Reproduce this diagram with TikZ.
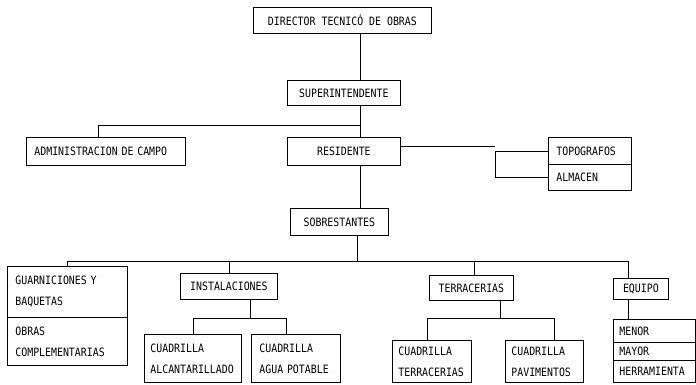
\documentclass[tikz,border=0pt]{standalone}
\usepackage{fontspec}
\setmonofont[FakeStretch=0.86]{DejaVu Sans Mono}
\usepackage{tikz}
\usetikzlibrary{positioning,calc}
\tikzset{
  node-box/.style={draw,line width=0.8pt,anchor=north west,inner sep=0pt,
    font=\ttfamily\fontsize{11.5}{21}\selectfont},
  box-size/.style 2 args={minimum width=#1pt,minimum height=#2pt},
  node-left/.style={node-box,align=left,inner xsep=8pt,text width=#1pt},
  link/.style={line width=0.8pt},
}

\begin{document}
\begin{tikzpicture}[x=1pt,y=-1pt]
  \useasboundingbox (0,0) rectangle (696,384);
  % upper part
  \node[node-box,box-size={178}{26}] (dir) at (253,7) {DIRECTOR TECNICÓ DE OBRAS};
  \node[node-box,box-size={113}{25}] (sup) at (287,80) {SUPERINTENDENTE};
  \node[node-left=143,minimum height=28pt] (adm) at (26,137) {ADMINISTRACION DE CAMPO};
  \node[node-box,box-size={113}{28}] (res) at (287,137) {RESIDENTE};
  \node[node-left=67,minimum height=27pt] (topo) at (548,137) {TOPOGRAFOS};
  \node[node-left=67,minimum height=26pt] (alm) at (548,164) {ALMACEN};
  \node[node-box,box-size={98}{27}] (sob) at (290,208) {SOBRESTANTES};
  % lower part
  \node[node-left=104,minimum height=51pt] (guar) at (7,266) {GUARNICIONES Y\\BAQUETAS};
  \node[node-left=104,minimum height=48pt] (obr) at (7,317) {OBRAS\\COMPLEMENTARIAS};
  \node[node-box,box-size={97}{26}] (inst) at (180,273) {INSTALACIONES};
  \node[node-left=85,inner xsep=6pt,minimum height=48pt] (cal) at (144,334) {CUADRILLA\\ALCANTARILLADO};
  \node[node-left=73,minimum height=48pt] (cap) at (251,334) {CUADRILLA\\AGUA POTABLE};
  \node[node-box,box-size={84}{25}] (terr) at (429,275) {TERRACERIAS};
  \node[node-left=67,inner xsep=6pt,minimum height=42pt] (cte) at (392,340) {CUADRILLA\\TERRACERIAS};
  \node[node-left=66,inner xsep=6pt,minimum height=42pt] (cpa) at (505,340) {CUADRILLA\\PAVIMENTOS};
  \node[node-box,box-size={55}{21}] (equ) at (613,278) {EQUIPO};
  \node[node-left=70,inner xsep=6pt,minimum height=23pt] (men) at (613,319) {MENOR};
  \node[node-left=70,inner xsep=6pt,minimum height=18pt] (may) at (613,342) {MAYOR};
  \node[node-left=70,inner xsep=6pt,minimum height=22pt] (her) at (613,360) {HERRAMIENTA};

  \coordinate (d-dir) at ([xshift=18pt]dir.south);
  \coordinate (d-sup) at ([xshift=16.5pt]sup.south);
  \coordinate (d-res) at ([xshift=16.5pt]res.south);
  \coordinate (d-sob) at ([xshift=18pt]sob.south);
  \coordinate (adm-bus) at (360,125);
  \coordinate (bus) at (0,261);
  \coordinate (sub-bus) at (0,318);
  \coordinate (tie) at ([xshift=-53pt]topo.west);

  \draw[link] (d-dir) -- (d-dir |- sup.north);
  \draw[link] (d-sup) -- (d-sup |- res.north);
  \draw[link] (adm-bus) -| ([xshift=-7.5pt]adm.north);
  \draw[link] ([yshift=5pt]res.east) -- ([yshift=5pt]res.east -| tie);
  \draw[link] (topo.west) -- (tie) |- (alm.west);
  \draw[link] (d-res) -- (d-res |- sob.north);
  \draw[link] (d-sob) -- (d-sob |- bus);

  \coordinate (d-equ) at ([xshift=-12.5pt]equ.north);
  \coordinate (d-terr) at ([xshift=3pt]terr.north);
  \draw[link] (guar.north) -- (guar.north |- bus) -- (d-equ |- bus) -- (d-equ);
  \draw[link] (inst.north) -- (inst.north |- bus);
  \draw[link] (d-terr) -- (d-terr |- bus);
  \draw[link] ([xshift=-12.5pt]equ.south) -- ([xshift=-12.5pt]equ.south |- men.north);

  \coordinate (d-inst) at ([xshift=21.5pt]inst.south);
  \coordinate (d-cap) at ([xshift=-9.5pt]cap.north);
  \draw[link] (d-inst) -- (d-inst |- sub-bus);
  \draw[link] (cal.north) -- (cal.north |- sub-bus) -- (d-cap |- sub-bus) -- (d-cap);

  \coordinate (d-terr2) at ([xshift=29pt]terr.south);
  \coordinate (d-cte) at ([xshift=-4.5pt]cte.north);
  \coordinate (d-cpa) at ([xshift=10pt]cpa.north);
  \draw[link] (d-terr2) -- (d-terr2 |- sub-bus);
  \draw[link] (d-cte) -- (d-cte |- sub-bus) -- (d-cpa |- sub-bus) -- (d-cpa);
\end{tikzpicture}
\end{document}
